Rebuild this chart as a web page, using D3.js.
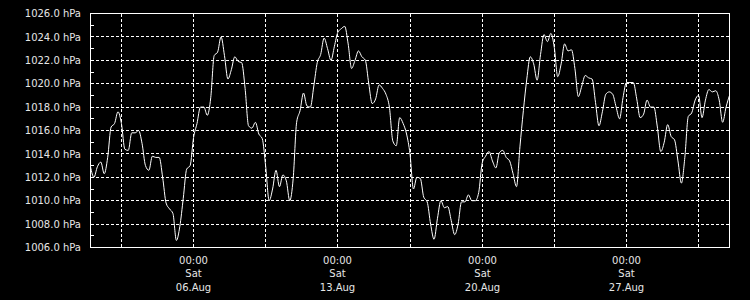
<!DOCTYPE html>
<html>
<head>
<meta charset="utf-8">
<script src="https://cdn.jsdelivr.net/npm/d3@7"></script>
<style>
  body { margin: 0; background: #000; }
  svg { display: block; }
  text { font-family: "DejaVu Sans", sans-serif; font-size: 10px; fill: #e6e6e6; }
</style>
</head>
<body>
<div id="chart"></div>
<script>
// pressure readings, every 4 hours from 01.Aug 00:00 (UTC)
var startDate = "2022-08-01T00:00:00Z";
var stepHours = 4;
var pressure = [
  1012.9, 1012.0, 1012.9, 1013.3, 1012.3, 1013.7, 1016.3, 1016.6, 1017.6, 1016.6,
  1014.4, 1014.3, 1015.8, 1015.8, 1016.0, 1014.9, 1013.0, 1012.6, 1013.8, 1013.7,
  1013.7, 1012.0, 1009.8, 1009.3, 1008.9, 1006.6, 1007.8, 1010.2, 1012.7, 1013.0,
  1015.4, 1016.6, 1018.0, 1018.0, 1017.3, 1018.8, 1022.4, 1022.7, 1024.0, 1022.4,
  1020.4, 1021.2, 1022.3, 1021.9, 1021.8, 1019.6, 1016.4, 1016.2, 1016.7, 1015.7,
  1015.3, 1012.9, 1010.0, 1011.0, 1012.6, 1011.2, 1012.2, 1011.7, 1010.0, 1011.9,
  1016.7, 1017.7, 1019.2, 1018.1, 1018.0, 1019.8, 1021.8, 1022.5, 1023.9, 1023.0,
  1022.0, 1023.2, 1024.4, 1024.7, 1024.9, 1023.4, 1021.3, 1022.0, 1022.8, 1022.3,
  1022.0, 1020.0, 1018.3, 1018.7, 1019.9, 1019.6, 1019.1, 1018.0, 1015.1, 1014.7,
  1017.1, 1016.6, 1015.7, 1014.0, 1011.0, 1012.0, 1011.9, 1010.3, 1009.9, 1008.0,
  1006.7, 1008.5, 1010.0, 1009.4, 1009.5, 1008.3, 1007.1, 1008.0, 1009.9, 1009.9,
  1010.5, 1010.0, 1010.0, 1010.7, 1013.2, 1013.8, 1014.2, 1013.4, 1012.8, 1014.1,
  1014.3, 1013.7, 1013.4, 1012.3, 1011.2, 1014.6, 1017.7, 1020.4, 1022.3, 1021.7,
  1020.3, 1022.5, 1024.2, 1023.6, 1024.3, 1023.1, 1020.6, 1021.7, 1023.4, 1022.8,
  1022.9, 1021.3, 1018.9, 1019.8, 1020.7, 1020.5, 1020.4, 1018.4, 1016.4, 1017.6,
  1019.1, 1019.3, 1019.1, 1018.0, 1017.0, 1018.8, 1020.1, 1020.1, 1020.1, 1018.7,
  1017.1, 1017.4, 1018.6, 1018.0, 1018.0, 1016.3, 1014.2, 1015.0, 1016.5, 1015.5,
  1015.2, 1013.4, 1011.5, 1013.7, 1017.2, 1017.5, 1018.6, 1019.0, 1017.1, 1018.6,
  1019.5, 1019.3, 1019.4, 1018.6, 1016.7, 1018.0, 1019.0
];

// axis ticks
var yTicks = [1006, 1008, 1010, 1012, 1014, 1016, 1018, 1020, 1022, 1024, 1026];
var yMinorTicks = [1007, 1009, 1011, 1013, 1015, 1017, 1019, 1021, 1023, 1025];
var xGridDates = ["2022-08-02T12:00:00Z", "2022-08-06T00:00:00Z", "2022-08-09T12:00:00Z",
  "2022-08-13T00:00:00Z", "2022-08-16T12:00:00Z", "2022-08-20T00:00:00Z",
  "2022-08-23T12:00:00Z", "2022-08-27T00:00:00Z", "2022-08-30T12:00:00Z"];
var xLabelDates = ["2022-08-06T00:00:00Z", "2022-08-13T00:00:00Z",
  "2022-08-20T00:00:00Z", "2022-08-27T00:00:00Z"];

var svgWidth = 750;
var svgHeight = 300;

var svg = d3.select("#chart")
  .append("svg")
  .attr("width", svgWidth)
  .attr("height", svgHeight)
  .style("background", "#000");

var t0 = new Date(startDate);
var data = pressure.map(function (p, i) {
  return { date: new Date(t0.getTime() + i * stepHours * 3600 * 1000), value: p };
});

var x = d3.scaleUtc()
  .domain([new Date("2022-08-01T00:00:00Z"), new Date("2022-09-01T00:00:00Z")])
  .range([90.5, 729.5]);
var y = d3.scaleLinear()
  .domain([1006, 1026])
  .range([247.5, 13.5]);

function px(v) { return Math.floor(v) + 0.5; }

// horizontal grid
svg.append("g")
  .selectAll("line")
  .data(yTicks.slice(1, -1))
  .join("line")
  .attr("x1", 91).attr("x2", 729)
  .attr("y1", function (d) { return px(y(d)); })
  .attr("y2", function (d) { return px(y(d)); })
  .attr("stroke", "#fff")
  .attr("stroke-dasharray", "3,2");

// vertical grid
svg.append("g")
  .selectAll("line")
  .data(xGridDates)
  .join("line")
  .attr("x1", function (d) { return px(x(new Date(d))); })
  .attr("x2", function (d) { return px(x(new Date(d))); })
  .attr("y1", 14).attr("y2", 247)
  .attr("stroke", "#fff")
  .attr("stroke-dasharray", "3,2");

// minor ticks on the left axis
svg.append("g")
  .selectAll("line")
  .data(yMinorTicks)
  .join("line")
  .attr("x1", 90).attr("x2", 94)
  .attr("y1", function (d) { return px(y(d)); })
  .attr("y2", function (d) { return px(y(d)); })
  .attr("stroke", "#fff");

// pressure line
var line = d3.line()
  .x(function (d) { return x(d.date); })
  .y(function (d) { return y(d.value); })
  .curve(d3.curveMonotoneX);

svg.append("path")
  .datum(data)
  .attr("fill", "none")
  .attr("stroke", "#fff")
  .attr("stroke-width", 1)
  .attr("d", line);

// frame
svg.append("rect")
  .attr("x", 90.5).attr("y", 13.5)
  .attr("width", 639).attr("height", 234)
  .attr("fill", "none")
  .attr("stroke", "#fff");

// y labels
svg.append("g")
  .selectAll("text")
  .data(yTicks)
  .join("text")
  .attr("x", 81)
  .attr("y", function (d) { return y(d); })
  .attr("dy", "0.36em")
  .attr("text-anchor", "end")
  .text(function (d) { return d.toFixed(1) + " hPa"; });

// x labels
var fmtTime = d3.utcFormat("%H:%M");
var fmtDay = d3.utcFormat("%a");
var fmtDate = d3.utcFormat("%d.%b");

var xl = svg.append("g")
  .selectAll("text")
  .data(xLabelDates)
  .join("text")
  .attr("text-anchor", "middle")
  .attr("transform", function (d) { return "translate(" + px(x(new Date(d))) + ",0)"; });

xl.append("tspan").attr("x", 0).attr("y", 263.5).text(function (d) { return fmtTime(new Date(d)); });
xl.append("tspan").attr("x", 0).attr("y", 277).text(function (d) { return fmtDay(new Date(d)); });
xl.append("tspan").attr("x", 0).attr("y", 290.5).text(function (d) { return fmtDate(new Date(d)); });
</script>
</body>
</html>
